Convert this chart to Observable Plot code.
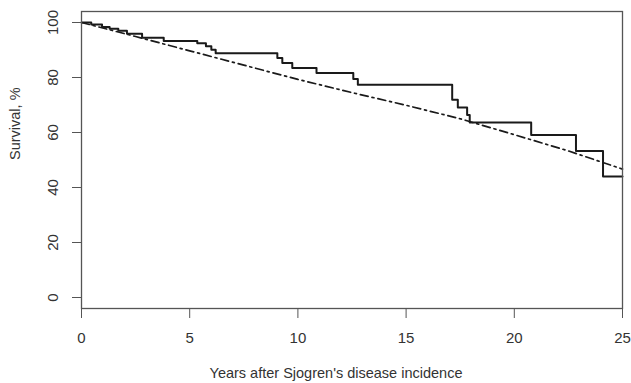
<!DOCTYPE html>
<html>
<head>
<meta charset="utf-8">
<script src="https://cdn.jsdelivr.net/npm/d3@7"></script>
<script src="https://cdn.jsdelivr.net/npm/@observablehq/plot@0.6"></script>
<style>
  html, body { margin: 0; padding: 0; background: #fff; }
</style>
</head>
<body>
<div id="chart"></div>
<script>
// Kaplan–Meier observed survival (step function)
const kmTime = [0, 0.45, 0.95, 1.3, 1.7, 2.1, 2.8, 3.8, 5.35, 5.75, 6.0, 6.2, 9.05, 9.28, 9.74, 10.86, 12.56, 12.77, 17.13, 17.39, 17.82, 17.94, 20.78, 22.85, 24.1, 25];
const kmSurv = [100, 99.3, 98.4, 97.7, 97.0, 95.9, 94.5, 93.3, 92.5, 91.4, 90.1, 88.8, 87.1, 85.3, 83.5, 81.6, 79.5, 77.4, 71.9, 69.1, 66.4, 63.6, 59.1, 53.3, 44.0, 44.0];

// Expected survival (dash-dot)
const expTime = [0, 2.5, 5, 7.5, 10, 12.5, 15, 17.5, 20, 22.5, 25];
const expSurv = [100, 94.9, 89.7, 84.5, 79.3, 74.5, 69.9, 65.0, 59.2, 53.3, 46.7];

const xTicks = [0, 5, 10, 15, 20, 25];
const yTicks = [0, 20, 40, 60, 80, 100];
const xLabel = "Years after Sjogren's disease incidence";
const yLabel = "Survival, %";

const km = kmTime.map((t, i) => ({t, s: kmSurv[i]}));
const expd = expTime.map((t, i) => ({t, s: expSurv[i]}));

const font = "Liberation Sans, Arial, Helvetica, sans-serif";

const chart = Plot.plot({
  width: 631,
  height: 383,
  marginLeft: 81,
  marginRight: 9,
  marginTop: 11,
  marginBottom: 75,
  style: {fontFamily: font, fontSize: "15px", color: "#333", background: "#fff"},
  x: {domain: [0, 25]},
  y: {domain: [-4, 104]},
  marks: [
    Plot.line(expd, {x: "t", y: "s", stroke: "#1a1a1a", strokeWidth: 1.7, strokeDasharray: "8,4,2,4"}),
    Plot.line(km, {x: "t", y: "s", curve: "step-after", stroke: "#1a1a1a", strokeWidth: 2}),
    Plot.frame({stroke: "#555", strokeWidth: 1.3}),
    Plot.axisX({ticks: xTicks, tickSize: 10, tickPadding: 14, label: null, stroke: "#555", fontSize: 15}),
    Plot.axisY({ticks: yTicks, tickSize: 9, tickFormat: () => "", label: null, stroke: "#555"}),
    Plot.text(yTicks, {y: d => d, text: d => String(d), frameAnchor: "left", dx: -28, rotate: -90, textAnchor: "middle", fontSize: 15, fill: "#333"}),
    Plot.text([xLabel], {text: d => d, frameAnchor: "bottom", dy: 69, dx: -16, fontSize: 14.5, fill: "#333"}),
    Plot.text([yLabel], {text: d => d, frameAnchor: "left", dx: -66, rotate: -90, fontSize: 14.5, fill: "#333"})
  ]
});
document.getElementById("chart").appendChild(chart);
</script>
</body>
</html>
